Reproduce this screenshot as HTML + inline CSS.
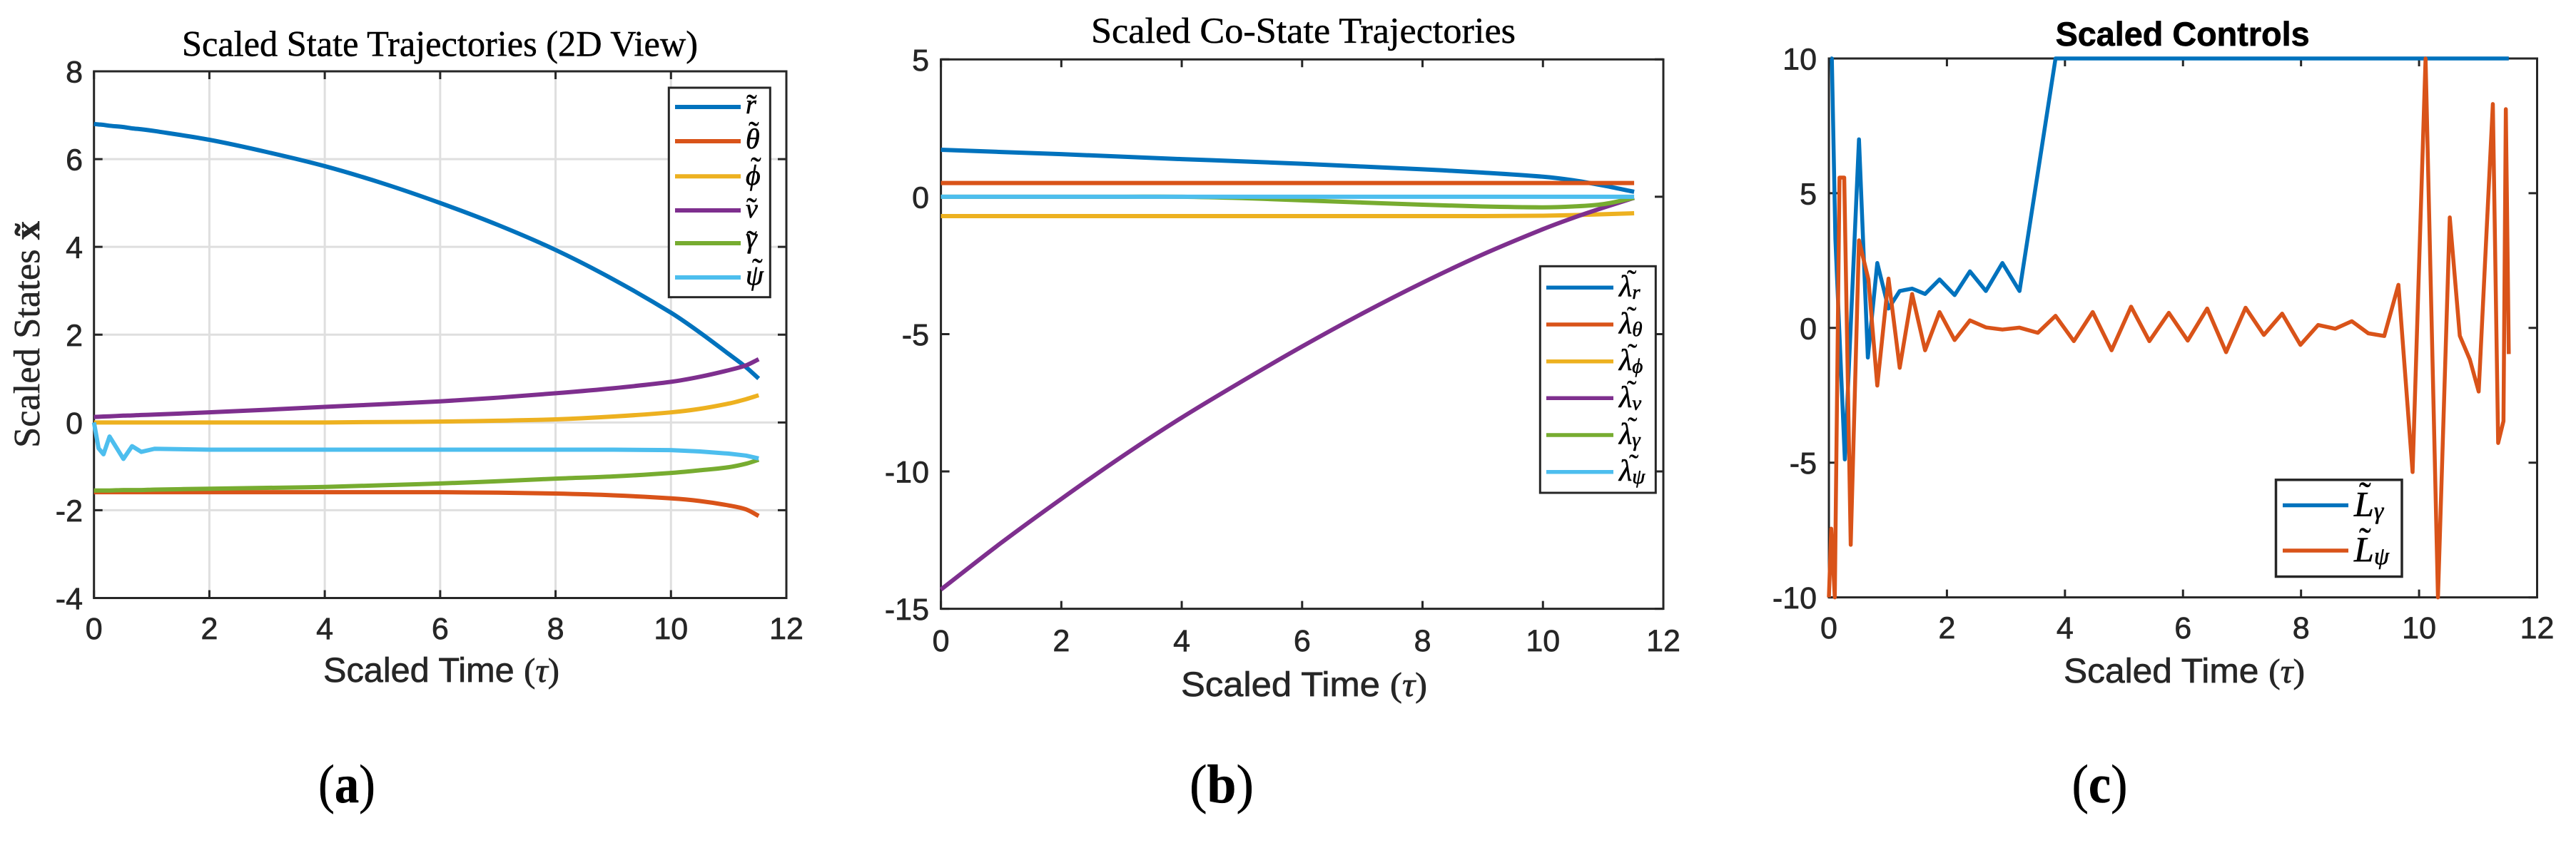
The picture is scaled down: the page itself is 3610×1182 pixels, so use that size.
<!DOCTYPE html>
<html lang="en">
<head>
<meta charset="utf-8">
<title>Scaled trajectories</title>
<style>
html,body{margin:0;padding:0;background:#fff;}
svg{display:block;}
.serif{font-family:"Liberation Serif",serif;fill:#000;stroke:#000;stroke-width:.5;}
.sans{font-family:"Liberation Sans",sans-serif;fill:#262626;stroke:#262626;stroke-width:.7;}
.math{font-family:"Liberation Serif",serif;font-style:italic;fill:#000;stroke:#000;stroke-width:.6;}
.tilde{font-family:"Liberation Serif",serif;fill:#000;stroke:#000;stroke-width:.4;}
</style>
</head>
<body>
<svg id="fig" xmlns="http://www.w3.org/2000/svg" width="3610" height="1182" viewBox="0 0 3610 1182">
<rect width="3610" height="1182" fill="#fff"/>
<g id="panel-a"></g>
<g id="panel-b"></g>
<g id="panel-c"></g>

<!-- titles -->
<text class="serif" x="255" y="78.5" font-size="51" textLength="723" lengthAdjust="spacingAndGlyphs">Scaled State Trajectories (2D View)</text>
<text class="serif" x="1529" y="60" font-size="51" textLength="595" lengthAdjust="spacingAndGlyphs">Scaled Co-State Trajectories</text>
<text class="sans" x="2880.6" y="64" font-size="47" font-weight="bold" style="fill:#000;stroke:#000" textLength="356" lengthAdjust="spacingAndGlyphs">Scaled Controls</text>

<!-- axis titles -->
<text class="serif" transform="translate(55,628) rotate(-90)" font-size="52" textLength="318" lengthAdjust="spacingAndGlyphs" style="fill:#262626;stroke:#262626">Scaled States <tspan font-weight="bold">x&#771;</tspan></text>
<text class="sans" x="453" y="956" font-size="48" textLength="331" lengthAdjust="spacingAndGlyphs">Scaled Time <tspan font-family="Liberation Serif">(</tspan><tspan font-family="Liberation Serif" font-style="italic">τ</tspan><tspan font-family="Liberation Serif">)</tspan></text>
<text class="sans" x="1655" y="976" font-size="48" textLength="345" lengthAdjust="spacingAndGlyphs">Scaled Time <tspan font-family="Liberation Serif">(</tspan><tspan font-family="Liberation Serif" font-style="italic">τ</tspan><tspan font-family="Liberation Serif">)</tspan></text>
<text class="sans" x="2892" y="957" font-size="48" textLength="338" lengthAdjust="spacingAndGlyphs">Scaled Time <tspan font-family="Liberation Serif">(</tspan><tspan font-family="Liberation Serif" font-style="italic">τ</tspan><tspan font-family="Liberation Serif">)</tspan></text>

<!-- subfigure captions -->
<text class="serif" x="446" y="1125" font-size="76" textLength="80" lengthAdjust="spacingAndGlyphs">(<tspan font-weight="bold">a</tspan>)</text>
<text class="serif" x="1667" y="1125" font-size="76" textLength="90" lengthAdjust="spacingAndGlyphs">(<tspan font-weight="bold">b</tspan>)</text>
<text class="serif" x="2903.5" y="1125" font-size="76" textLength="78" lengthAdjust="spacingAndGlyphs">(<tspan font-weight="bold">c</tspan>)</text>

<!-- legend a -->
<g>
<rect x="937.3" y="123" width="142" height="293.7" fill="#fff" stroke="#262626" stroke-width="3"/>
<line x1="946" x2="1038" y1="150" y2="150" stroke="#0072BD" stroke-width="6"/>
<line x1="946" x2="1038" y1="198" y2="198" stroke="#D95319" stroke-width="6"/>
<line x1="946" x2="1038" y1="247.3" y2="247.3" stroke="#EDB120" stroke-width="6"/>
<line x1="946" x2="1038" y1="295" y2="295" stroke="#7E2F8E" stroke-width="6"/>
<line x1="946" x2="1038" y1="341" y2="341" stroke="#77AC30" stroke-width="6"/>
<line x1="946" x2="1038" y1="389" y2="389" stroke="#4DBEEE" stroke-width="6"/>
<text class="math" x="1045" y="159" font-size="38">r</text>
<text class="tilde" x="1046" y="163" font-size="44">˜</text>
<text class="math" x="1045" y="208" font-size="40">θ</text>
<text class="tilde" x="1049" y="201" font-size="44">˜</text>
<text class="math" x="1045" y="259" font-size="40">ϕ</text>
<text class="tilde" x="1052" y="251" font-size="44">˜</text>
<text class="math" x="1045" y="305" font-size="38">v</text>
<text class="tilde" x="1046" y="308" font-size="44">˜</text>
<text class="math" x="1045" y="347" font-size="40">γ</text>
<text class="tilde" x="1046" y="354" font-size="44">˜</text>
<text class="math" x="1045" y="399" font-size="40">ψ</text>
<text class="tilde" x="1054" y="393" font-size="44">˜</text>
</g>

<!-- legend b -->
<g>
<rect x="2158.3" y="373.3" width="162" height="317.7" fill="#fff" stroke="#262626" stroke-width="3"/>
<line x1="2167" x2="2261" y1="403.3" y2="403.3" stroke="#0072BD" stroke-width="5.5"/>
<line x1="2167" x2="2261" y1="455" y2="455" stroke="#D95319" stroke-width="5.5"/>
<line x1="2167" x2="2261" y1="506.7" y2="506.7" stroke="#EDB120" stroke-width="5.5"/>
<line x1="2167" x2="2261" y1="558.3" y2="558.3" stroke="#7E2F8E" stroke-width="5.5"/>
<line x1="2167" x2="2261" y1="610" y2="610" stroke="#77AC30" stroke-width="5.5"/>
<line x1="2167" x2="2261" y1="661.7" y2="661.7" stroke="#4DBEEE" stroke-width="5.5"/>
<text class="math" x="2269" y="415" font-size="42">λ<tspan font-size="29" dy="4">r</tspan></text>
<text class="tilde" x="2280" y="406" font-size="40">˜</text>
<text class="math" x="2269" y="467" font-size="42">λ<tspan font-size="29" dy="4">θ</tspan></text>
<text class="tilde" x="2280" y="457.7" font-size="40">˜</text>
<text class="math" x="2269" y="518.7" font-size="42">λ<tspan font-size="29" dy="4">ϕ</tspan></text>
<text class="tilde" x="2281" y="509.4" font-size="40">˜</text>
<text class="math" x="2269" y="570.3" font-size="42">λ<tspan font-size="29" dy="4">v</tspan></text>
<text class="tilde" x="2280" y="561" font-size="40">˜</text>
<text class="math" x="2269" y="622" font-size="42">λ<tspan font-size="29" dy="4">γ</tspan></text>
<text class="tilde" x="2281" y="612.7" font-size="40">˜</text>
<text class="math" x="2269" y="673.7" font-size="42">λ<tspan font-size="29" dy="4">ψ</tspan></text>
<text class="tilde" x="2283" y="664.4" font-size="40">˜</text>
</g>

<!-- legend c -->
<g>
<rect x="3189.5" y="672.8" width="176.5" height="135.7" fill="#fff" stroke="#262626" stroke-width="3.5"/>
<line x1="3199" x2="3291" y1="708.5" y2="708.5" stroke="#0072BD" stroke-width="5.5"/>
<line x1="3199" x2="3291" y1="772" y2="772" stroke="#D95319" stroke-width="5.5"/>
<text class="math" x="3299" y="723.5" font-size="50">L<tspan font-size="34" dy="4">γ</tspan></text>
<text class="tilde" x="3306" y="710" font-size="50">˜</text>
<text class="math" x="3299" y="787" font-size="50">L<tspan font-size="34" dy="4">ψ</tspan></text>
<text class="tilde" x="3306" y="774" font-size="50">˜</text>
</g>
</svg>

<script>
// ---------- Shared tick labels ----------
const timeTicks = [0, 2, 4, 6, 8, 10, 12];

// ---------- Panel (a): scaled states ----------
const stateYTicks = [8, 6, 4, 2, 0, -2, -4];
const stateTau = [0, 0.08, 0.165, 0.27, 0.51, 0.66, 0.82, 1.05, 2, 3, 4, 5, 6, 7, 8, 9, 10, 10.5, 11, 11.3, 11.52];
const stateR = [6.8, 6.79, 6.78, 6.76, 6.73, 6.7, 6.68, 6.64, 6.44, 6.16, 5.84, 5.45, 5.0, 4.5, 3.93, 3.26, 2.5, 2.05, 1.56, 1.26, 1.0];
const stateTheta = [-1.59, -1.59, -1.59, -1.59, -1.59, -1.59, -1.59, -1.59, -1.59, -1.59, -1.59, -1.59, -1.59, -1.6, -1.62, -1.66, -1.73, -1.79, -1.89, -1.98, -2.13];
const statePhi = [0, 0, 0, 0, 0, 0, 0, 0, 0, 0, 0, 0.01, 0.02, 0.04, 0.07, 0.135, 0.23, 0.31, 0.43, 0.53, 0.62];
const stateV = [0.125, 0.13, 0.135, 0.14, 0.155, 0.16, 0.17, 0.18, 0.23, 0.29, 0.355, 0.415, 0.48, 0.565, 0.665, 0.78, 0.925, 1.04, 1.19, 1.3, 1.44];
const stateGamma = [-1.55, -1.55, -1.55, -1.55, -1.54, -1.54, -1.54, -1.53, -1.51, -1.49, -1.47, -1.43, -1.39, -1.34, -1.28, -1.23, -1.15, -1.09, -1.02, -0.94, -0.85];
const statePsi = [0, -0.59, -0.725, -0.32, -0.83, -0.54, -0.67, -0.6, -0.62, -0.62, -0.62, -0.62, -0.62, -0.62, -0.62, -0.62, -0.63, -0.66, -0.71, -0.755, -0.82];

// ---------- Panel (b): scaled co-states ----------
const costateYTicks = [5, 0, -5, -10, -15];
const costateTau = [0, 1, 2, 3, 4, 5, 6, 7, 8, 9, 10, 10.5, 11, 11.515];
const lambdaR = [1.71, 1.63, 1.55, 1.46, 1.37, 1.29, 1.2, 1.1, 1.0, 0.88, 0.73, 0.6, 0.41, 0.18];
const lambdaTheta = [0.5, 0.5, 0.5, 0.5, 0.5, 0.5, 0.5, 0.5, 0.5, 0.5, 0.5, 0.5, 0.5, 0.5];
const lambdaPhi = [-0.705, -0.705, -0.705, -0.705, -0.705, -0.705, -0.705, -0.705, -0.705, -0.705, -0.69, -0.67, -0.635, -0.6];
const lambdaV = [-14.3, -12.6, -11.0, -9.47, -8.04, -6.72, -5.45, -4.25, -3.13, -2.1, -1.18, -0.77, -0.4, -0.04];
const lambdaGamma = [0, 0, 0, 0, 0, -0.05, -0.13, -0.21, -0.29, -0.355, -0.385, -0.355, -0.27, -0.04];
const lambdaPsi = [0, 0, 0, 0, 0, 0, 0, 0, 0, 0, 0, 0, 0, 0];

// ---------- Panel (c): scaled controls ----------
const controlYTicks = [10, 5, 0, -5, -10];
const lGammaTau = [0.03, 0.05, 0.11, 0.27, 0.51, 0.66, 0.82, 1.01, 1.2, 1.41, 1.63, 1.875, 2.13, 2.39, 2.66, 2.94, 3.23, 3.84, 11.52];
const lGamma = [10, 10, 3.3, -4.88, 7.0, -1.1, 2.41, 0.72, 1.37, 1.46, 1.26, 1.8, 1.22, 2.1, 1.37, 2.41, 1.37, 10, 10];
const lPsiTau = [0, 0.04, 0.1, 0.18, 0.26, 0.37, 0.51, 0.67, 0.82, 1.01, 1.2, 1.41, 1.63, 1.875, 2.13, 2.39, 2.66, 2.94, 3.23, 3.54, 3.84, 4.15, 4.47, 4.79, 5.12, 5.43, 5.76, 6.08, 6.41, 6.73, 7.06, 7.37, 7.68, 7.99, 8.29, 8.58, 8.86, 9.14, 9.41, 9.65, 9.89, 10.11, 10.32, 10.52, 10.69, 10.86, 11.01, 11.25, 11.34, 11.43, 11.47, 11.52];
const lPsi = [-10, -7.45, -10, 5.58, 5.58, -8.05, 3.25, 1.8, -2.14, 1.83, -1.48, 1.26, -0.83, 0.59, -0.45, 0.28, 0.02, -0.06, 0.01, -0.18, 0.45, -0.49, 0.59, -0.83, 0.79, -0.49, 0.56, -0.47, 0.72, -0.9, 0.75, -0.26, 0.53, -0.63, 0.11, -0.03, 0.25, -0.2, -0.3, 1.6, -5.35, 10, -10, 4.1, -0.29, -1.17, -2.36, 8.31, -4.27, -3.46, 8.12, -0.97];

const SVG_NS = 'http://www.w3.org/2000/svg';

function make(parent, tag, attrs) {
  const el = document.createElementNS(SVG_NS, tag);
  for (const k in attrs) el.setAttribute(k, attrs[k]);
  parent.appendChild(el);
  return el;
}

function linearScale(d0, d1, r0, r1) {
  return function (v) { return r0 + (v - d0) * (r1 - r0) / (d1 - d0); };
}

function drawAxes(group, box, prefix, xVals, yVals, grid) {
  const x = linearScale(box.xMin, box.xMax, box.left, box.right);
  const y = linearScale(box.yMin, box.yMax, box.bottom, box.top);
  const axisColor = '#262626';

  if (grid) {
    xVals.slice(1, -1).forEach(function (v) {
      const g = make(group, 'line', { x1: x(v), x2: x(v), y1: box.top, y2: box.bottom, stroke: '#dfdfdf', 'stroke-width': 3 });
      
      
    });
    yVals.slice(1, -1).forEach(function (v) {
      const g = make(group, 'line', { x1: box.left, x2: box.right, y1: y(v), y2: y(v), stroke: '#dfdfdf', 'stroke-width': 3 });
      
      
    });
  }

  const frame = make(group, 'rect', { x: box.left, y: box.top, width: box.right - box.left, height: box.bottom - box.top, fill: 'none', stroke: axisColor, 'stroke-width': 3 });
  
  

  xVals.forEach(function (v) {
    const t1 = make(group, 'path', { d: 'M' + x(v) + ' ' + box.bottom + 'v-11M' + x(v) + ' ' + box.top + 'v11', stroke: axisColor, 'stroke-width': 3, fill: 'none' });
    
    
    const label = make(group, 'text', { x: x(v), y: box.xLabelY, 'text-anchor': 'middle', 'font-size': 43, class: 'sans' });
    label.textContent = String(v);
    
    
  });

  yVals.forEach(function (v) {
    const t2 = make(group, 'path', { d: 'M' + box.left + ' ' + y(v) + 'h12M' + box.right + ' ' + y(v) + 'h-12', stroke: axisColor, 'stroke-width': 3, fill: 'none' });
    
    
    const label = make(group, 'text', { x: box.yLabelX, y: y(v) + 15.5, 'text-anchor': 'end', 'font-size': 43, class: 'sans' });
    label.textContent = String(v);
    
    
  });

  return { x: x, y: y };
}

function linePath(scales, tau, values) {
  let d = '';
  for (let i = 0; i < tau.length; i++) {
    d += (i === 0 ? 'M' : 'L') + scales.x(tau[i]).toFixed(2) + ' ' + scales.y(values[i]).toFixed(2);
  }
  return d;
}

// Smooth curve through the data points, for the analytically smooth trajectories.
function curvePath(scales, tau, values) {
  const n = tau.length;
  const slope = function (i) {
    const a = Math.max(i - 1, 0);
    const b = Math.min(i + 1, n - 1);
    return (values[b] - values[a]) / (tau[b] - tau[a]);
  };
  let d = 'M' + scales.x(tau[0]).toFixed(2) + ' ' + scales.y(values[0]).toFixed(2);
  for (let i = 0; i < n - 1; i++) {
    const h = (tau[i + 1] - tau[i]) / 3;
    const c1x = tau[i] + h;
    const c1y = values[i] + slope(i) * h;
    const c2x = tau[i + 1] - h;
    const c2y = values[i + 1] - slope(i + 1) * h;
    d += 'C' + scales.x(c1x).toFixed(2) + ' ' + scales.y(c1y).toFixed(2) + ' ' +
         scales.x(c2x).toFixed(2) + ' ' + scales.y(c2y).toFixed(2) + ' ' +
         scales.x(tau[i + 1]).toFixed(2) + ' ' + scales.y(values[i + 1]).toFixed(2);
  }
  return d;
}

function drawSeries(group, pathData, color, name, width) {
  const path = make(group, 'path', { d: pathData, fill: 'none', stroke: color, 'stroke-width': width, 'stroke-linejoin': 'round' });
  
  
}

const panelA = document.getElementById('panel-a');
const scalesA = drawAxes(panelA, { left: 131.7, right: 1102, top: 100, bottom: 838.5, xMin: 0, xMax: 12, yMin: -4, yMax: 8, xLabelY: 896, yLabelX: 116 }, 'state', timeTicks, stateYTicks, true);
drawSeries(panelA, curvePath(scalesA, stateTau, stateR), '#0072BD', 'series-r', 6);
drawSeries(panelA, curvePath(scalesA, stateTau, stateTheta), '#D95319', 'series-theta', 6);
drawSeries(panelA, curvePath(scalesA, stateTau, statePhi), '#EDB120', 'series-phi', 6);
drawSeries(panelA, curvePath(scalesA, stateTau, stateV), '#7E2F8E', 'series-v', 6);
drawSeries(panelA, curvePath(scalesA, stateTau, stateGamma), '#77AC30', 'series-gamma', 6);
drawSeries(panelA, linePath(scalesA, stateTau, statePsi), '#4DBEEE', 'series-psi', 6);

const panelB = document.getElementById('panel-b');
const scalesB = drawAxes(panelB, { left: 1318.6, right: 2331, top: 83.3, bottom: 853.6, xMin: 0, xMax: 12, yMin: -15, yMax: 5, xLabelY: 913, yLabelX: 1302 }, 'costate', timeTicks, costateYTicks, false);
drawSeries(panelB, curvePath(scalesB, costateTau, lambdaR), '#0072BD', 'series-lambda-r', 6);
drawSeries(panelB, linePath(scalesB, costateTau, lambdaTheta), '#D95319', 'series-lambda-theta', 6);
drawSeries(panelB, curvePath(scalesB, costateTau, lambdaPhi), '#EDB120', 'series-lambda-phi', 6);
drawSeries(panelB, curvePath(scalesB, costateTau, lambdaV), '#7E2F8E', 'series-lambda-v', 6);
drawSeries(panelB, curvePath(scalesB, costateTau, lambdaGamma), '#77AC30', 'series-lambda-gamma', 6);
drawSeries(panelB, linePath(scalesB, costateTau, lambdaPsi), '#4DBEEE', 'series-lambda-psi', 6);

const panelC = document.getElementById('panel-c');
const scalesC = drawAxes(panelC, { left: 2563, right: 3555.5, top: 82, bottom: 837.6, xMin: 0, xMax: 12, yMin: -10, yMax: 10, xLabelY: 895, yLabelX: 2546 }, 'controls', timeTicks, controlYTicks, false);
drawSeries(panelC, linePath(scalesC, lGammaTau, lGamma), '#0072BD', 'series-l-gamma', 5.5);
drawSeries(panelC, linePath(scalesC, lPsiTau, lPsi), '#D95319', 'series-l-psi', 5.5);
</script>
</body>
</html>
